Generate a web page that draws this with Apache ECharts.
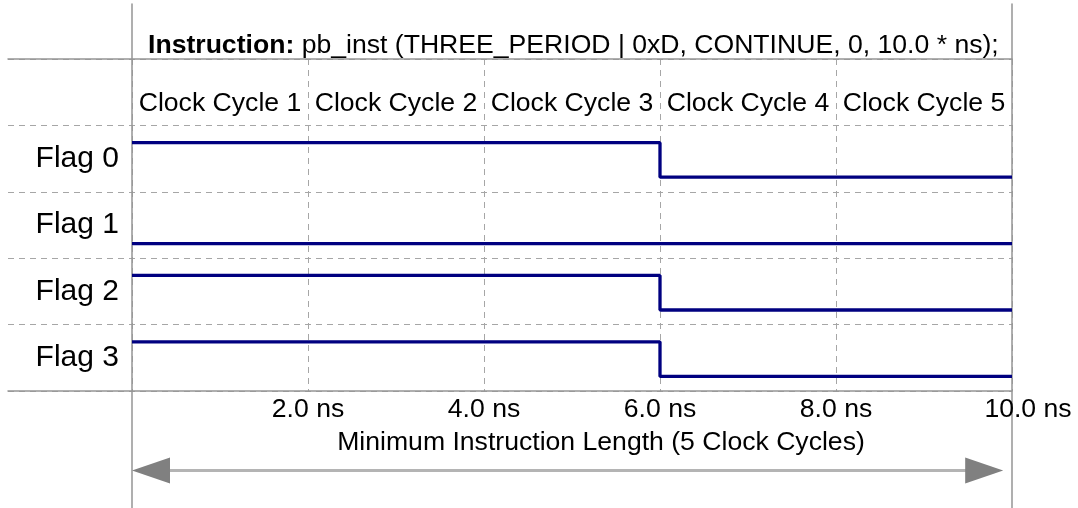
<!DOCTYPE html>
<html>
<head>
<meta charset="utf-8">
<script src="https://cdn.jsdelivr.net/npm/echarts@6/dist/echarts.min.js"></script>
<style>
  html, body { margin: 0; padding: 0; background: #fff; }
  #main { width: 1078px; height: 508px; }
</style>
</head>
<body>
<div id="main"></div>
<script>
  // time points (ns) at the start of each clock cycle, plus the end
  const timePoints = [0, 2, 4, 6, 8, 10];
  const cycleLabels = ['Clock Cycle 1', 'Clock Cycle 2', 'Clock Cycle 3', 'Clock Cycle 4', 'Clock Cycle 5'];
  const flagNames = ['Flag 0', 'Flag 1', 'Flag 2', 'Flag 3'];
  // logic level of each flag per time point (last value repeats the final cycle)
  const flag0 = [1, 1, 1, 0, 0, 0];
  const flag1 = [0, 0, 0, 0, 0, 0];
  const flag2 = [1, 1, 1, 0, 0, 0];
  const flag3 = [1, 1, 1, 0, 0, 0];
  const instructionSpan = [0, 9.9]; // ns, arrow under the axis

  const titleText = '{b|Instruction:} pb_inst (THREE_PERIOD | 0xD, CONTINUE, 0, 10.0 * ns);';
  const spanText = 'Minimum Instruction Length (5 Clock Cycles)';

  const FONT = 'Liberation Sans';
  const FS = 26.6;
  const solidGray = '#959595';
  const dashGray = '#a6a6a6';
  const waveColor = '#000080';

  // each flag has its own row; high / low sit inside the row
  const HIGH = 0.74, LOW = 0.22;
  const flags = [flag0, flag1, flag2, flag3];

  const chart = echarts.init(document.getElementById('main'));

  const waveSeries = flags.map((states, i) => {
    const base = flags.length - 1 - i;
    return {
      name: flagNames[i],
      type: 'line',
      xAxisIndex: 2,
      yAxisIndex: 1,
      step: 'end',
      showSymbol: false,
      symbol: 'none',
      lineStyle: { color: waveColor, width: 3.3 },
      data: timePoints.map((t, k) => [t, base + (states[k] ? HIGH : LOW)]),
      z: 5
    };
  });

  const option = {
    animation: false,
    textStyle: { fontFamily: FONT },
    title: [
      {
        text: titleText,
        left: 148,
        top: 32,
        padding: 0,
        textStyle: {
          fontFamily: FONT,
          fontSize: FS,
          fontWeight: 'normal',
          color: '#000',
          rich: { b: { fontFamily: FONT, fontSize: FS, fontWeight: 'bold', color: '#000' } }
        }
      },
      {
        text: spanText,
        left: 601,
        textAlign: 'center',
        top: 429,
        padding: 0,
        textStyle: { fontFamily: FONT, fontSize: FS, fontWeight: 'normal', color: '#000' }
      }
    ],
    grid: [
      { left: 8, right: 66, top: 59, bottom: 117 },   // row separators
      { left: 132, right: 66, top: 59, bottom: 117 }, // waveforms
      { left: 132, right: 66, top: 4, bottom: 0 },    // tall border lines
      { left: 132, right: 66, top: 59, height: 64 },  // clock cycle header
      { left: 132, right: 66, top: 391, bottom: 0 }   // length arrow
    ],
    xAxis: [
      {
        gridIndex: 0, type: 'value', min: 0, max: 1, position: 'bottom',
        axisLine: { show: true, lineStyle: { color: solidGray, width: 1.5 } },
        axisTick: { show: false }, axisLabel: { show: false }, splitLine: { show: false }
      },
      {
        gridIndex: 0, type: 'value', min: 0, max: 1, position: 'top',
        axisLine: { show: true, lineStyle: { color: solidGray, width: 1.5 } },
        axisTick: { show: false }, axisLabel: { show: false }, splitLine: { show: false }
      },
      {
        gridIndex: 1, type: 'value', min: 0, max: 10, interval: 2,
        axisLine: { show: false }, axisTick: { show: false },
        axisLabel: {
          showMinLabel: false,
          fontSize: FS,
          color: '#000',
          margin: 5,
          formatter: v => (v === 10 ? '{last|10.0 ns}' : v.toFixed(1) + ' ns'),
          rich: { last: { fontSize: FS, color: '#000', fontFamily: FONT, padding: [0, 0, 0, 32] } }
        },
        splitLine: { show: true, lineStyle: { color: dashGray, type: [6, 5], width: 1 } }
      },
      { gridIndex: 2, type: 'value', min: 0, max: 1, show: false },
      {
        gridIndex: 3, type: 'category', data: cycleLabels, position: 'bottom',
        axisLine: { show: false }, axisTick: { show: false }, splitLine: { show: false },
        axisLabel: { inside: true, interval: 0, margin: 6, fontSize: FS, color: '#000' }
      },
      { gridIndex: 4, type: 'value', min: 0, max: 10, show: false }
    ],
    yAxis: [
      {
        gridIndex: 0, type: 'value', min: 0, max: 5, interval: 1,
        axisLine: { show: false }, axisTick: { show: false }, axisLabel: { show: false },
        splitLine: { show: true, lineStyle: { color: dashGray, type: [6, 5], width: 1 } }
      },
      {
        gridIndex: 1, type: 'value', min: 0, max: 5, interval: 0.5,
        axisLine: { show: false }, axisTick: { show: false }, splitLine: { show: false },
        axisLabel: {
          fontSize: 30,
          color: '#000',
          margin: 13,
          formatter: v => {
            const row = v - Math.floor(v);
            const idx = flags.length - 1 - Math.floor(v);
            return Math.abs(row - 0.5) < 1e-6 && idx >= 0 ? flagNames[idx] : '';
          }
        }
      },
      {
        gridIndex: 2, type: 'value', min: 0, max: 1, position: 'left',
        axisLine: { show: true, lineStyle: { color: solidGray, width: 1.5 } },
        axisTick: { show: false }, axisLabel: { show: false }, splitLine: { show: false }
      },
      {
        gridIndex: 2, type: 'value', min: 0, max: 1, position: 'right',
        axisLine: { show: true, lineStyle: { color: solidGray, width: 1.5 } },
        axisTick: { show: false }, axisLabel: { show: false }, splitLine: { show: false }
      },
      { gridIndex: 3, show: false },
      { gridIndex: 4, type: 'value', min: 0, max: 1, show: false }
    ],
    series: waveSeries.concat([
      {
        type: 'custom',
        xAxisIndex: 5,
        yAxisIndex: 5,
        silent: true,
        data: [instructionSpan],
        renderItem: (params, api) => {
          const a = api.coord([api.value(0), 0.32]);
          const b = api.coord([api.value(1), 0.32]);
          const len = 38, half = 13;
          return {
            type: 'group',
            children: [
              {
                type: 'line',
                shape: { x1: a[0] + len - 2, y1: a[1], x2: b[0] - len + 2, y2: b[1] },
                style: { stroke: '#b4b4b4', lineWidth: 3 }
              },
              {
                type: 'polygon',
                shape: { points: [[a[0], a[1]], [a[0] + len, a[1] - half], [a[0] + len, a[1] + half]] },
                style: { fill: '#808080' }
              },
              {
                type: 'polygon',
                shape: { points: [[b[0], b[1]], [b[0] - len, b[1] - half], [b[0] - len, b[1] + half]] },
                style: { fill: '#808080' }
              }
            ]
          };
        }
      }
    ])
  };

  chart.setOption(option);
</script>
</body>
</html>
